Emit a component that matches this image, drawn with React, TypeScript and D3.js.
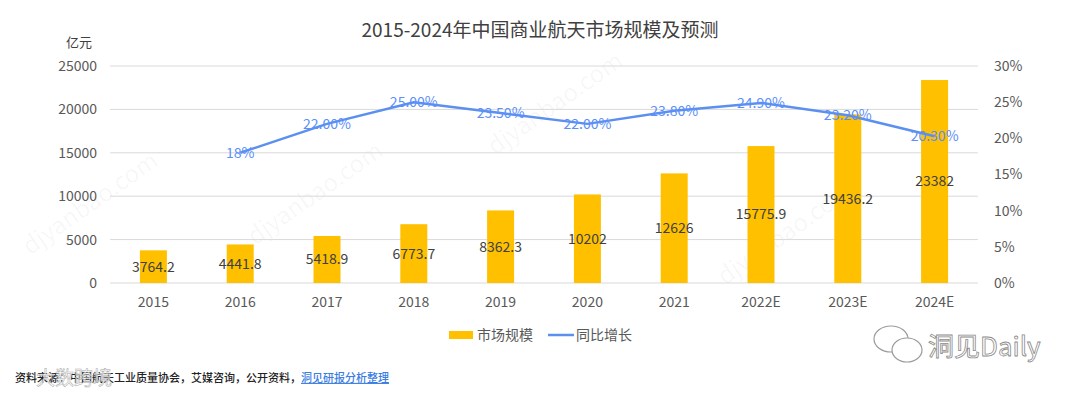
import * as React from 'react';
import * as d3 from 'd3';

const W = 1080;
const H = 396;

const years = ['2015', '2016', '2017', '2018', '2019', '2020', '2021', '2022E', '2023E', '2024E'];
const marketSize = [3764.2, 4441.8, 5418.9, 6773.7, 8362.3, 10202, 12626, 15775.9, 19436.2, 23382];
const marketLabels = ['3764.2', '4441.8', '5418.9', '6773.7', '8362.3', '10202', '12626', '15775.9', '19436.2', '23382'];
const growth: (number | null)[] = [null, 18, 22, 25, 23.5, 22, 23.8, 24.9, 23.2, 20.3];
const growthLabels = ['', '18%', '22.00%', '25.00%', '23.50%', '22.00%', '23.80%', '24.90%', '23.20%', '20.30%'];
const leftTicks = [0, 5000, 10000, 15000, 20000, 25000];
const rightTicks = [0, 5, 10, 15, 20, 25, 30];

const font = '"Noto Sans CJK SC", "Noto Sans", sans-serif';
const barColor = '#ffc000';
const lineColor = '#5b8ff0';
const labelBlue = '#5b8ff9';
const textColor = '#404040';
const axisText = '#595959';

const plot = {left: 110, right: 978, top: 66, bottom: 283};

// faint site watermark, repeated diagonally
const watermarks = [
  {x: 95, y: 210},
  {x: 320, y: 200},
  {x: 560, y: 110},
  {x: 790, y: 240},
];

export default function App() {
  const x = d3.scaleBand<string>().domain(years).range([plot.left, plot.right]);
  const yL = d3.scaleLinear().domain([0, 25000]).range([plot.bottom, plot.top]);
  const yR = d3.scaleLinear().domain([0, 30]).range([plot.bottom, plot.top]);
  const cx = (d: string) => (x(d) ?? 0) + x.bandwidth() / 2;
  const barW = 27;

  const pts = years
    .map((y, i) => ({y, v: growth[i], label: growthLabels[i]}))
    .filter(p => p.v !== null) as {y: string; v: number; label: string}[];

  const line = d3.line<{y: string; v: number}>()
    .x(d => cx(d.y))
    .y(d => yR(d.v));

  return (
    <svg width={W} height={H} style={{position: 'absolute', left: 0, top: 0, background: '#fff'}}
      fontFamily={font}>
      <rect x={0} y={0} width={W} height={H} fill="#fff"/>

      {watermarks.map((w, i) => (
        <text key={i} x={w.x} y={w.y} transform={`rotate(-35 ${w.x} ${w.y})`}
          fontSize={24} fill="#000" fillOpacity={0.04} textAnchor="middle">djyanbao.com</text>
      ))}

      <text x={540} y={37} textAnchor="middle" fontSize={19} fill={textColor}>
        2015-2024年中国商业航天市场规模及预测
      </text>
      <text x={66} y={47} fontSize={13} fill={textColor}>亿元</text>

      {/* grid */}
      {leftTicks.map(t => (
        <line key={t} x1={plot.left} x2={plot.right} y1={yL(t)} y2={yL(t)}
          stroke="#d9d9d9" strokeWidth={1}/>
      ))}
      {leftTicks.map(t => (
        <text key={t} x={97} y={yL(t)} dy="0.35em" textAnchor="end" fontSize={14} fill={axisText}>{t}</text>
      ))}
      {rightTicks.map(t => (
        <text key={t} x={994} y={yR(t)} dy="0.35em" fontSize={14} fill={axisText}>{t}%</text>
      ))}
      {years.map(y => (
        <text key={y} x={cx(y)} y={302} dy="0.35em" textAnchor="middle" fontSize={14} fill={axisText}>{y}</text>
      ))}

      {/* bars */}
      {years.map((y, i) => (
        <rect key={y} x={cx(y) - barW / 2} y={yL(marketSize[i])} width={barW}
          height={yL(0) - yL(marketSize[i])} fill={barColor}/>
      ))}
      {years.map((y, i) => (
        <text key={y} x={cx(y)} y={(yL(marketSize[i]) + yL(0)) / 2} dy="0.35em" textAnchor="middle"
          fontSize={14} fill={textColor}>{marketLabels[i]}</text>
      ))}

      {/* growth line */}
      <path d={line(pts) ?? ''} fill="none" stroke={lineColor} strokeWidth={2.5} strokeLinejoin="round"/>
      {pts.map(p => (
        <text key={p.y} x={cx(p.y)} y={yR(p.v)} dy="0.35em" textAnchor="middle" fontSize={14}
          fill={labelBlue}>{p.label}</text>
      ))}

      {/* legend */}
      <rect x={449} y={331} width={24} height={8} fill={barColor}/>
      <text x={477} y={335} dy="0.35em" fontSize={14} fill={axisText}>市场规模</text>
      <line x1={548} x2={574} y1={335} y2={335} stroke={lineColor} strokeWidth={2.5}/>
      <text x={576} y={335} dy="0.35em" fontSize={14} fill={axisText}>同比增长</text>

      {/* source */}
      <text x={15} y={378} dy="0.35em" fontSize={11} fill="#222" fontWeight={500}>
        资料来源：中国航天工业质量协会，艾媒咨询，公开资料，
        <tspan fill="#3b7de0" textDecoration="underline">洞见研报分析整理</tspan>
      </text>
      <text x={36} y={378} dy="0.35em" fontSize={19} fill="#fff" fillOpacity={0.7}
        stroke="#aaa" strokeWidth={0.5}>大数跨境</text>

      {/* wechat badge */}
      <g fill="#fff" stroke="#9a9a9a" strokeWidth={1.2}>
        <ellipse cx={891} cy={339} rx={17} ry={13}/>
        <ellipse cx={907} cy={350} rx={15} ry={12}/>
      </g>
      <text x={928} y={347} dy="0.35em" fontSize={26} fill="#fff" stroke="#8a8a8a" strokeWidth={0.8}>洞见Daily</text>
    </svg>
  );
}
